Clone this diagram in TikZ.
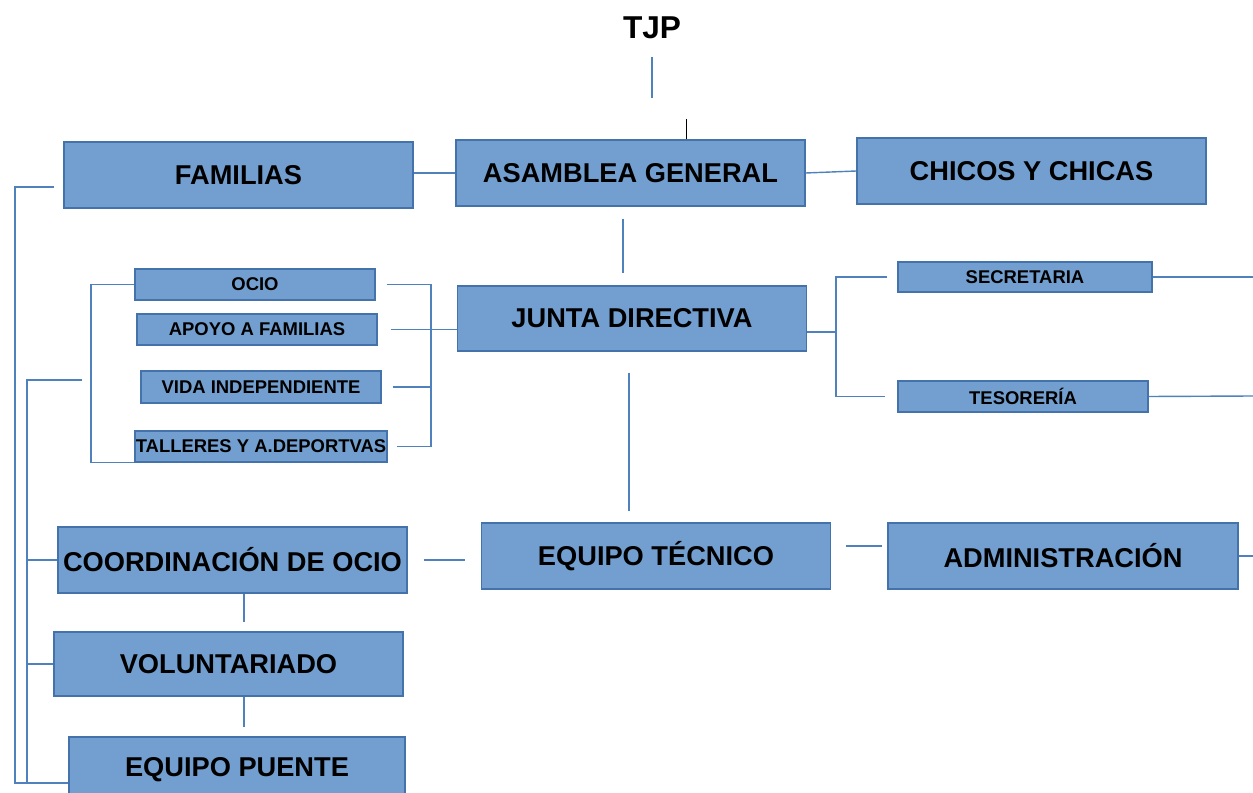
\documentclass[tikz,border=0pt]{standalone}
\usepackage{fontspec}
\setmainfont{Liberation Sans}
\usetikzlibrary{positioning,calc}
\definecolor{boxfill}{RGB}{114,159,207}
\definecolor{boxline}{RGB}{68,114,170}
\definecolor{linkblue}{RGB}{79,129,189}
\begin{document}
\begin{tikzpicture}[x=0.02cm,y=-0.02cm,
    bigbox/.style={draw=boxline,fill=boxfill,thick,inner sep=0pt,minimum width=6.98cm,minimum height=1.32cm,font=\fontsize{15.5}{18}\selectfont\bfseries},
    smallbox/.style={draw=boxline,fill=boxfill,thick,inner sep=0pt,minimum width=4.8cm,minimum height=0.62cm,font=\fontsize{10.5}{12}\selectfont\bfseries},
    link/.style={draw=linkblue,thick}]
		\useasboundingbox (0,0) rectangle (1253,793);
		\node[font=\fontsize{18}{21}\selectfont\bfseries] (tjp) at (652,28) {TJP};
		\node[bigbox] (fam) at (238.5,175) {FAMILIAS};
		\node[bigbox] (asam) at (630.5,173) {ASAMBLEA GENERAL};
		\node[bigbox] (chicos) at (1031.5,171) {CHICOS Y CHICAS};
		\node[bigbox,minimum height=1.3cm] (junta) at (632,318.5) {JUNTA DIRECTIVA};
		\node[smallbox] (ocio) at (255,284.5) {OCIO};
		\node[smallbox] (apoyo) at (257,329.5) {APOYO A FAMILIAS};
		\node[smallbox,minimum height=0.64cm] (vida) at (261,387) {VIDA INDEPENDIENTE};
		\node[smallbox,minimum width=5.04cm] (talleres) at (261,446.5) {TALLERES Y A.DEPORTVAS};
		\node[smallbox,minimum width=5.08cm,minimum height=0.6cm] (secre) at (1025,277) {SECRETARIA};
		\node[smallbox,minimum width=5cm] (teso) at (1023,396.5) {TESORERÍA};
		\node[bigbox] (equipo) at (656,556) {EQUIPO TÉCNICO};
		\node[bigbox,minimum width=7cm] (admin) at (1063,556) {ADMINISTRACIÓN};
		\node[bigbox] (coord) at (232.5,560) {COORDINACIÓN DE OCIO};
		\node[bigbox,minimum height=1.28cm] (volun) at (228.5,664) {VOLUNTARIADO};
		\node[bigbox,minimum width=6.72cm] (puente) at (237,770) {EQUIPO PUENTE};
		\coordinate (tjpend) at (652,98);
		\coordinate (asamtop) at (686,119);
		\coordinate (jspine) at (836,332);
		\coordinate (rbot) at (431,446.5);
		\coordinate (lspine) at (91,380);
		\coordinate (l2) at (27,380);
		\coordinate (lbot) at (15,783);
		\coordinate (adminend) at (1253,556);
		\coordinate (secreend) at (1253,277);
		\coordinate (tesoend) at (1253,396);
		\draw[link,shorten <=0.24cm] (tjp.south) -- (tjpend);
		\draw[black] (asamtop) -- (asamtop |- asam.north);
		\draw[link] (fam.east |- asam.west) -- (asam.west);
		\draw[link] (asam.east) -- (chicos.west);
		\draw[link,shorten <=0.24cm,shorten >=0.24cm] ([xshift=-0.15cm]asam.south) -- ([xshift=-0.15cm]asam.south |- junta.north);
		\draw[link,shorten <=0.42cm,shorten >=0.22cm] ([xshift=-0.06cm]junta.south) -- ([xshift=-0.06cm]junta.south |- equipo.north);
		\draw[link,shorten <=0.3cm,shorten >=0.1cm] ([yshift=0.2cm]equipo.east) -- ([yshift=0.2cm]admin.west);
		\draw[link] (admin.east) -- (adminend);
		\draw[link,shorten <=0.32cm,shorten >=0.32cm] (coord.east) -- (equipo.west |- coord.east);
		\draw[link,shorten >=0.18cm] (244,0 |- coord.south) -- (244,0 |- volun.north);
		\draw[link,shorten >=0.18cm] (244,0 |- volun.south) -- (244,0 |- puente.north);
		\draw[link] (secre.east) -- (secreend);
		\draw[link] (teso.east) -- (tesoend);
		\draw[link] (junta.east |- jspine) -- (jspine);
		\draw[link] ([xshift=-0.2cm]secre.west) -| (jspine) |- ([xshift=-0.24cm]teso.west);
		\draw[link] ([xshift=0.22cm]ocio.east) -| (rbot) -- ([xshift=0.18cm]talleres.east);
		\draw[link] ([xshift=0.22cm]vida.east) -- (vida.east -| rbot);
		\draw[link,shorten <=0.26cm] (apoyo.east) -- (junta.west |- apoyo.east);
		\draw[link] (ocio.west) -| (lspine) |- (talleres.south west);
		\draw[link] ([xshift=-0.18cm,yshift=-0.24cm]fam.west) -| (lbot) -- (lbot -| puente.west);
		\draw[link] ([xshift=-0.18cm]lspine) -- (l2) -- (l2 |- lbot);
		\draw[link] (l2 |- coord.west) -- (coord.west);
		\draw[link] (l2 |- volun.west) -- (volun.west);
	\end{tikzpicture}
\end{document}
